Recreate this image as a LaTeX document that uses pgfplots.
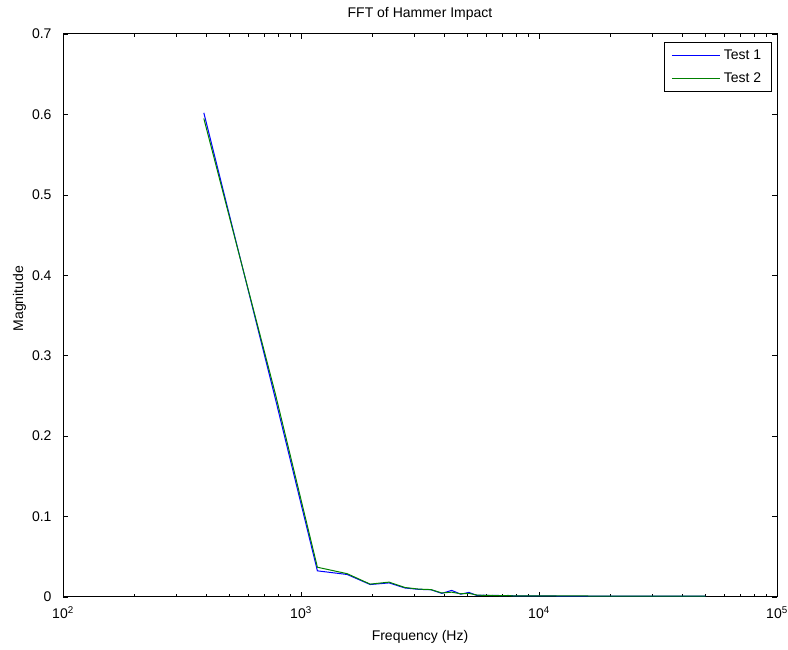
\documentclass[border=0pt]{standalone}
\usepackage{fontspec}
\setmainfont{Liberation Sans}
\usepackage{pgfplots}
\pgfplotsset{compat=1.18}
\definecolor{mblue}{rgb}{0,0,1}
\definecolor{mgreen}{rgb}{0,0.5,0}
\newcommand{\ff}{\fontsize{14}{16}\selectfont}
\begin{document}
\begin{tikzpicture}
\useasboundingbox (0,0) rectangle (788pt,650pt);
\begin{axis}[
  at={(63pt,53pt)}, anchor=south west,
  scale only axis, width=714pt, height=563pt,
  xmode=log, xmin=100, xmax=100000,
  ymin=0, ymax=0.7,
  xtick={100,1000,10000,100000},
  xticklabels={10\textsuperscript{2},10\textsuperscript{3},10\textsuperscript{4},10\textsuperscript{5}},
  ytick={0,0.1,0.2,0.3,0.4,0.5,0.6,0.7},
  yticklabels={0,0.1,0.2,0.3,0.4,0.5,0.6,0.7},
  tick align=inside, tick pos=both,
  major tick length=5pt, minor tick length=3pt,
  axis line style={line width=1pt},
  every tick/.style={black, line width=0.6pt},
  tick label style={font=\ff},
  yticklabel style={xshift=-8pt},
  xticklabel style={yshift=-6pt},
  title={FFT of Hammer Impact},
  title style={font=\ff, at={(axis description cs:0.5,1.029)}, anchor=base, yshift=-6pt},
  xlabel={Frequency (Hz)},
  xlabel style={font=\ff, at={(axis description cs:0.5,-0.078)}, anchor=base},
  ylabel={Magnitude},
  ylabel style={font=\ff, at={(axis description cs:-0.056,0.53)}, anchor=base},
  legend style={font=\ff, at={(axis description cs:1,1)}, anchor=north east,
    xshift=-5pt, yshift=-8pt, line width=0.8pt, fill=white,
    inner xsep=7pt, inner ysep=4pt, row sep=5pt, nodes={inner sep=3.5pt}},
  legend image code/.code={\draw[#1, line width=0.9pt] (0pt,0pt) -- (48pt,0pt);},
  legend cell align=left,
]
\addplot[draw=mblue, line width=1pt] coordinates {
(390.625,0.602) (781.25,0.246) (1171.875,0.0325) (1562.5,0.028)
(1953.125,0.0155) (2343.75,0.0175) (2734.375,0.0112) (3125,0.0095)
(3515.625,0.009) (3906.25,0.0045) (4296.875,0.0082) (4687.5,0.0035)
(5078.125,0.0057) (5468.75,0.002) (5859.375,0.0022) (6250,0.0018)
(6640.625,0.002) (7031.25,0.0016) (7421.875,0.0019) (7812.5,0.0015)
(9375,0.0014) (12500,0.0012) (18750,0.0011) (25000,0.001)
(37500,0.001) (50000,0.001)
};
\addlegendentry{Test 1}
\addplot[draw=mgreen, line width=1pt] coordinates {
(390.625,0.595) (781.25,0.252) (1171.875,0.037) (1562.5,0.029)
(1953.125,0.016) (2343.75,0.0185) (2734.375,0.0118) (3125,0.0098)
(3515.625,0.0092) (3906.25,0.005) (4296.875,0.006) (4687.5,0.004)
(5078.125,0.0045) (5468.75,0.0025) (5859.375,0.002) (6250,0.0019)
(6640.625,0.0018) (7031.25,0.0017) (7421.875,0.0016) (7812.5,0.0015)
(9375,0.0014) (12500,0.0013) (18750,0.0012) (25000,0.0012)
(37500,0.0011) (50000,0.0011)
};
\addlegendentry{Test 2}
\end{axis}
\end{tikzpicture}
\end{document}
